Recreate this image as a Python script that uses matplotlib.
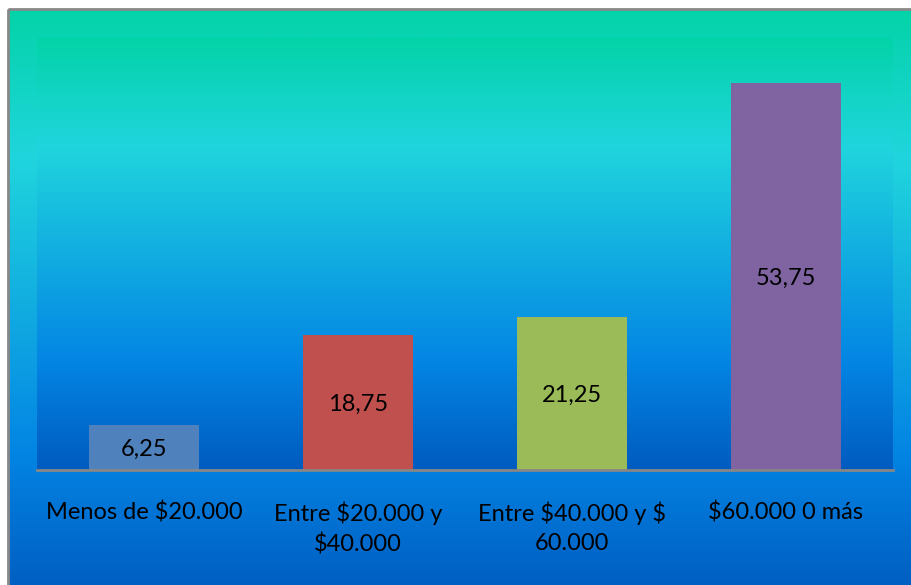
import numpy as np
import matplotlib
matplotlib.use("Agg")
import matplotlib.pyplot as plt
from matplotlib.colors import LinearSegmentedColormap
from matplotlib.patches import Rectangle

categorias = ["Menos de $20.000", "Entre $20.000 y\n$40.000",
              "Entre $40.000 y $\n60.000", "$60.000 0 más"]
valores = [6.25, 18.75, 21.25, 53.75]
etiquetas = ["6,25", "18,75", "21,25", "53,75"]
colores = ["#4F81BD", "#C0504D", "#9BBB59", "#8064A2"]

plt.rcParams["font.family"] = ["Lato", "DejaVu Sans"]
plt.rcParams["text.parse_math"] = False  # los "$" son texto normal

# degradado tipo "océano": verde arriba, cian, azul abajo
oceano = LinearSegmentedColormap.from_list(
    "oceano", [(0.0, "#03D3A8"), (0.25, "#20D5DD"), (0.75, "#0385E4"), (1.0, "#005BBF")])
grad = np.linspace(0, 1, 256).reshape(-1, 1)

fig = plt.figure(figsize=(9.12, 5.85), dpi=100)
W, H = 912, 585

# fondo del gráfico con borde gris
fondo = fig.add_axes([0, 0, 1, 1])
fondo.set_xlim(0, W)
fondo.set_ylim(H, 0)
fondo.axis("off")
fondo.imshow(grad, cmap=oceano, extent=[8, W + 5, 600, 9], aspect="auto", zorder=0)
fondo.add_patch(Rectangle((8, 9), W + 10, H + 20, fill=False, ec="#888888", lw=2, zorder=1))

ax = fig.add_axes([37 / W, 1 - 470 / H, (893 - 37) / W, (470 - 38) / H])
ax.imshow(grad, cmap=oceano, extent=[0, 1, 0, 1], transform=ax.transAxes,
          aspect="auto", zorder=0)

x = np.arange(len(valores))
barras = ax.bar(x, valores, width=0.515, color=colores, zorder=2)
for b, v, t in zip(barras, valores, etiquetas):
    ax.text(b.get_x() + b.get_width() / 2, v / 2, t, ha="center", va="center_baseline",
            fontsize=17, color="black", zorder=3)

ax.set_xlim(-0.5, len(valores) - 0.5)
ax.set_ylim(0, 60)
ax.set_xticks(x)
ax.set_xticklabels(categorias, fontsize=17, color="black", linespacing=1.45)
ax.tick_params(axis="x", length=0, pad=23)
ax.set_yticks([])
for s in ["top", "left", "right"]:
    ax.spines[s].set_visible(False)
ax.spines["bottom"].set_color("#868686")
ax.spines["bottom"].set_linewidth(2)
ax.spines["bottom"].set_zorder(4)

fig.savefig("out.png", dpi=100)
